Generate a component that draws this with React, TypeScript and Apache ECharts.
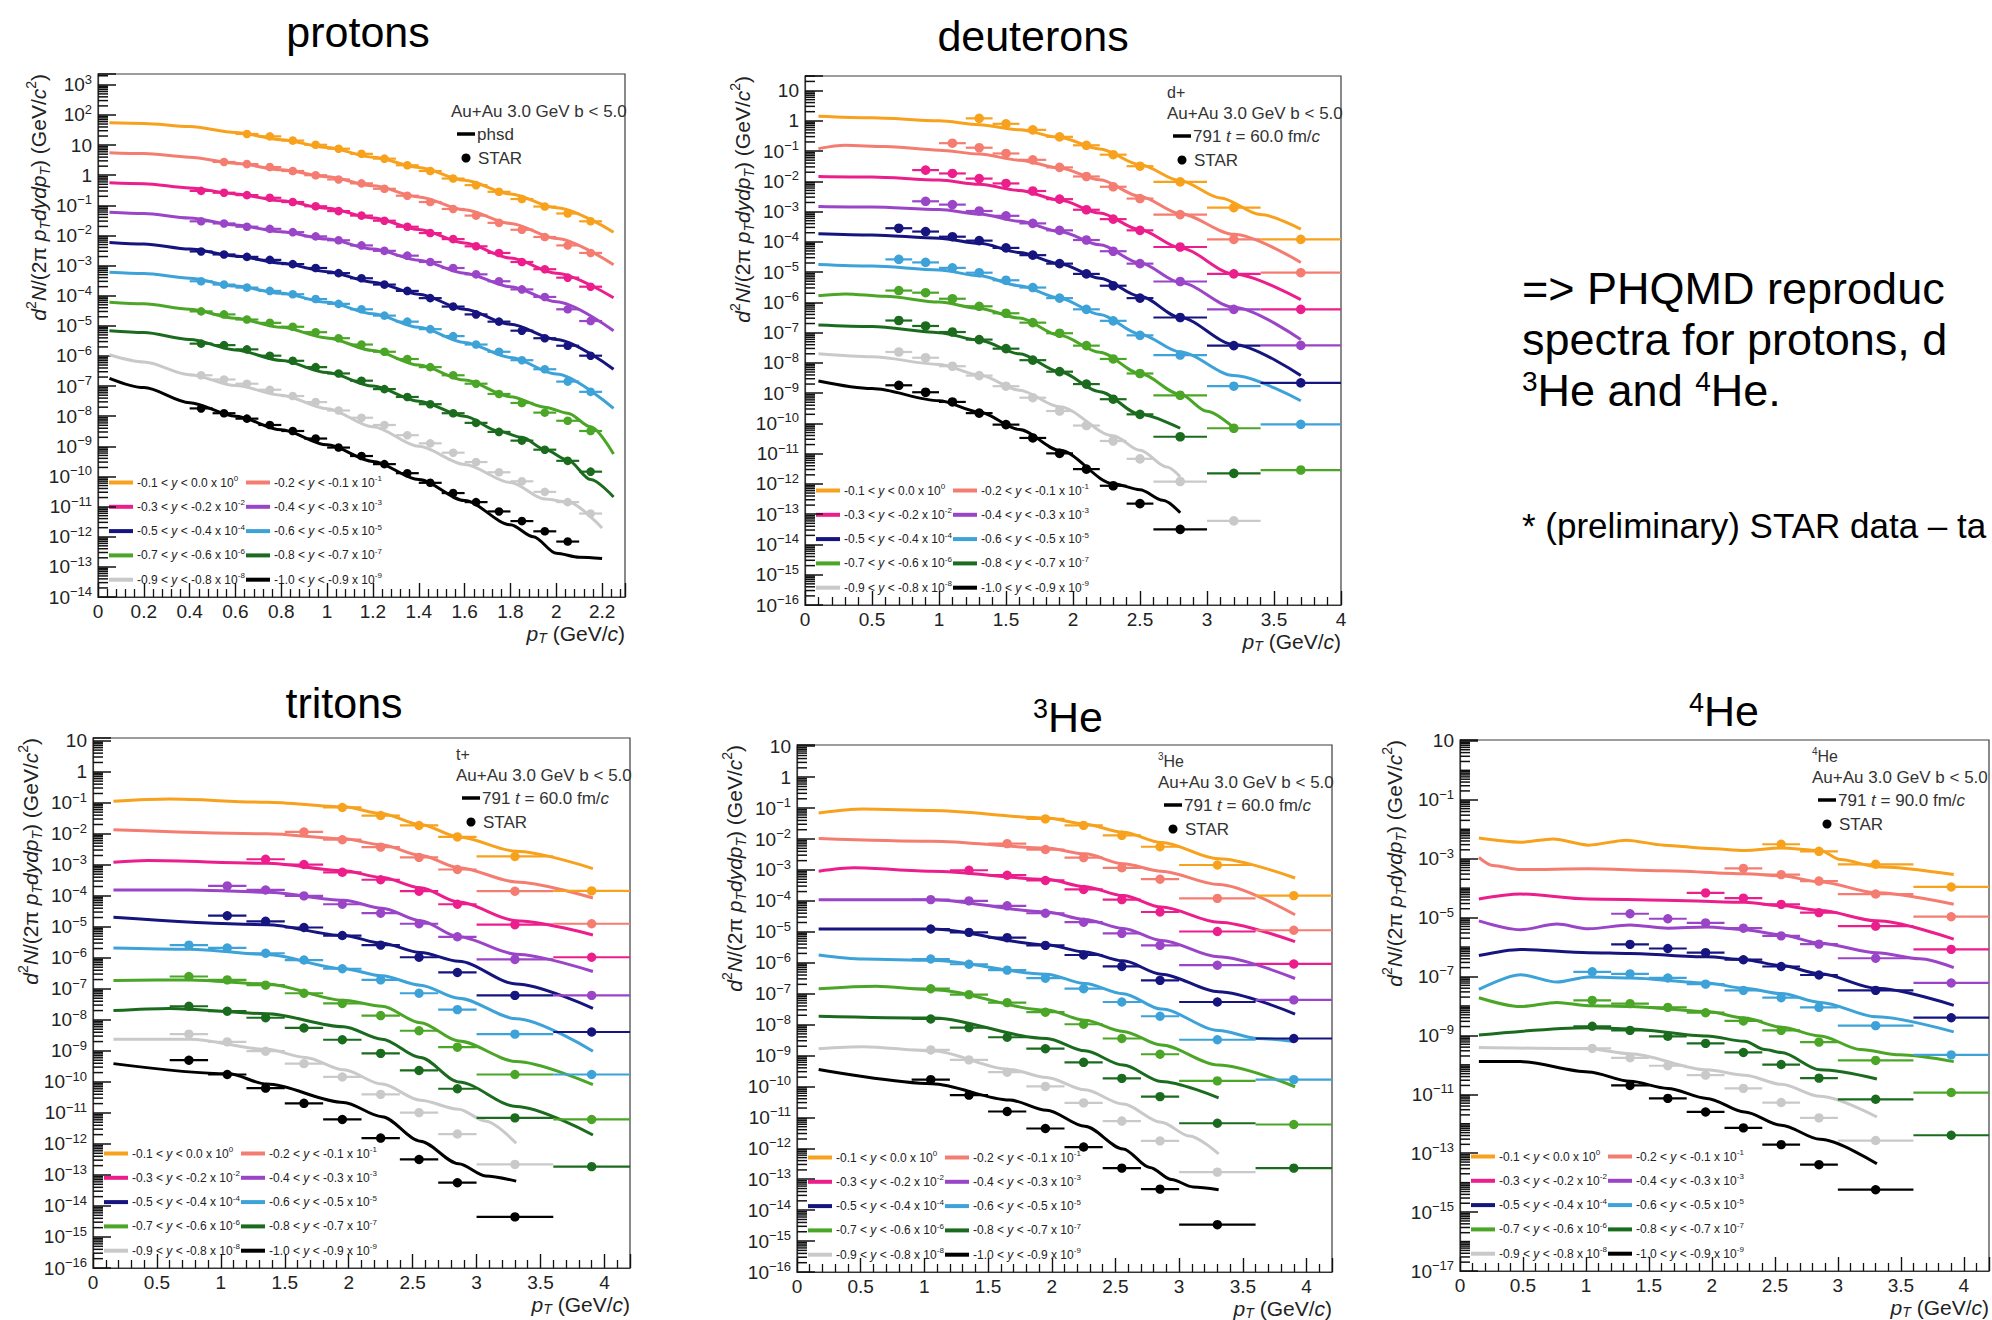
import React, { useEffect, useRef } from 'react';
import * as echarts from 'echarts';

const FONT = '"Liberation Sans", Arial, Helvetica, sans-serif';

const seriesColors = ['#F7A11D', '#F47C70', '#EB1E8C', '#9A45C8', '#16147E', '#3DA2D8', '#4BA526', '#1B6B1E', '#C9C9C9', '#000000'];

const rapidityLow = ['-0.1', '-0.2', '-0.3', '-0.4', '-0.5', '-0.6', '-0.7', '-0.8', '-0.9', '-1.0'];
const rapidityHigh = ['0.0', '-0.1', '-0.2', '-0.3', '-0.4', '-0.5', '-0.6', '-0.7', '-0.8', '-0.9'];
const scaleExponent = ['0', '-1', '-2', '-3', '-4', '-5', '-6', '-7', '-8', '-9'];

// All y values are log10 of d2N/(2 pi pT dy dpT) (already multiplied by the 10^-k offsets)

// ---------------- protons ----------------
const protonStarPt = [0.45, 0.55, 0.65, 0.75, 0.85, 0.95, 1.05, 1.15, 1.25, 1.35, 1.45, 1.55, 1.65, 1.75, 1.85, 1.95, 2.05, 2.15];
const protonStarHalfWidth = [0.05, 0.05, 0.05, 0.05, 0.05, 0.05, 0.05, 0.05, 0.05, 0.05, 0.05, 0.05, 0.05, 0.05, 0.05, 0.05, 0.05, 0.05];
const protonStarLog = [
  [null, null, 1.37, 1.29, 1.15, 1.01, 0.88, 0.71, 0.55, 0.33, 0.14, -0.11, -0.33, -0.55, -0.79, -1.04, -1.27, -1.53],
  [null, 0.44, 0.37, 0.27, 0.14, 0.0, -0.14, -0.27, -0.45, -0.68, -0.89, -1.12, -1.34, -1.58, -1.81, -2.05, -2.33, -2.58],
  [-0.52, -0.58, -0.66, -0.75, -0.89, -1.03, -1.19, -1.34, -1.51, -1.71, -1.92, -2.12, -2.36, -2.58, -2.88, -3.12, -3.4, -3.7],
  [-1.53, -1.6, -1.71, -1.78, -1.89, -2.03, -2.16, -2.33, -2.51, -2.67, -2.88, -3.08, -3.29, -3.52, -3.79, -4.04, -4.45, -4.84],
  [-2.53, -2.63, -2.71, -2.81, -2.95, -3.08, -3.25, -3.42, -3.63, -3.84, -4.08, -4.36, -4.62, -4.86, -5.16, -5.41, -5.66, -5.99],
  [-3.52, -3.63, -3.73, -3.84, -3.95, -4.11, -4.27, -4.45, -4.66, -4.86, -5.11, -5.34, -5.62, -5.86, -6.14, -6.44, -6.85, -7.19],
  [-4.52, -4.62, -4.79, -4.9, -5.03, -5.21, -5.41, -5.62, -5.86, -6.1, -6.37, -6.64, -6.92, -7.26, -7.56, -7.88, -8.15, -8.49],
  [-5.59, -5.64, -5.78, -5.99, -6.16, -6.37, -6.58, -6.82, -7.1, -7.36, -7.6, -7.9, -8.22, -8.52, -8.81, -9.11, -9.48, -9.84],
  [-6.64, -6.78, -6.92, -7.12, -7.33, -7.53, -7.81, -8.05, -8.29, -8.63, -8.9, -9.21, -9.52, -9.86, -10.16, -10.51, -10.85, -11.23],
  [-7.74, -7.9, -8.08, -8.29, -8.49, -8.74, -9.04, -9.32, -9.59, -9.89, -10.21, -10.55, -10.85, -11.16, -11.48, -11.82, -12.16, null],
];
const protonModelLog = [
  [[0.05, 1.74], [0.2, 1.72], [0.4, 1.62], [0.6, 1.42], [0.8, 1.18], [1.0, 0.92], [1.2, 0.6], [1.4, 0.26], [1.6, -0.17], [1.8, -0.62], [2.0, -1.08], [2.25, -1.89]],
  [[0.05, 0.75], [0.2, 0.72], [0.4, 0.6], [0.6, 0.4], [0.8, 0.18], [1.0, -0.05], [1.2, -0.35], [1.4, -0.72], [1.6, -1.15], [1.8, -1.6], [2.0, -2.1], [2.25, -2.97]],
  [[0.05, -0.25], [0.2, -0.28], [0.4, -0.42], [0.6, -0.62], [0.8, -0.85], [1.0, -1.1], [1.2, -1.42], [1.4, -1.8], [1.6, -2.25], [1.8, -2.75], [2.0, -3.25], [2.25, -4.07]],
  [[0.05, -1.23], [0.2, -1.27], [0.4, -1.42], [0.6, -1.65], [0.8, -1.88], [1.0, -2.12], [1.2, -2.45], [1.4, -2.82], [1.6, -3.25], [1.8, -3.7], [2.0, -4.2], [2.25, -5.16]],
  [[0.05, -2.23], [0.2, -2.28], [0.4, -2.45], [0.6, -2.68], [0.8, -2.92], [1.0, -3.2], [1.2, -3.55], [1.4, -3.95], [1.6, -4.45], [1.8, -4.95], [2.0, -5.45], [2.25, -6.44]],
  [[0.05, -3.22], [0.2, -3.26], [0.4, -3.42], [0.6, -3.68], [0.8, -3.92], [1.0, -4.22], [1.2, -4.6], [1.4, -5.05], [1.6, -5.55], [1.8, -6.05], [2.0, -6.6], [2.25, -7.74]],
  [[0.05, -4.22], [0.2, -4.27], [0.4, -4.45], [0.6, -4.75], [0.8, -5.05], [1.0, -5.4], [1.2, -5.82], [1.4, -6.3], [1.6, -6.8], [1.8, -7.35], [1.95, -7.7], [2.05, -7.9], [2.15, -8.35], [2.25, -9.25]],
  [[0.05, -5.16], [0.2, -5.22], [0.4, -5.45], [0.6, -5.8], [0.8, -6.15], [1.0, -6.55], [1.2, -7.0], [1.4, -7.5], [1.6, -8.0], [1.75, -8.5], [1.85, -8.7], [1.95, -9.1], [2.05, -9.45], [2.15, -10.1], [2.25, -10.68]],
  [[0.05, -5.96], [0.2, -6.2], [0.4, -6.62], [0.6, -6.98], [0.8, -7.3], [1.0, -7.75], [1.2, -8.35], [1.4, -9.0], [1.6, -9.6], [1.8, -10.2], [1.95, -10.75], [2.05, -10.85], [2.2, -11.71]],
  [[0.05, -6.74], [0.2, -7.05], [0.4, -7.55], [0.6, -8.0], [0.8, -8.45], [1.0, -8.95], [1.2, -9.5], [1.4, -10.1], [1.6, -10.8], [1.8, -11.6], [1.9, -12.0], [2.0, -12.55], [2.1, -12.68], [2.2, -12.72]],
];

// ---------------- deuterons ----------------
const deuteronStarPt = [0.7, 0.9, 1.1, 1.3, 1.5, 1.7, 1.9, 2.1, 2.3, 2.5, 2.8, 3.2, 3.7];
const deuteronStarHalfWidth = [0.1, 0.1, 0.1, 0.1, 0.1, 0.1, 0.1, 0.1, 0.1, 0.1, 0.2, 0.2, 0.3];
const deuteronStarLog = [
  [null, null, null, 0.08, -0.1, -0.3, -0.53, -0.81, -1.12, -1.5, -2.02, -2.87, -3.92],
  [null, null, -0.74, -0.89, -1.08, -1.29, -1.54, -1.84, -2.18, -2.57, -3.1, -3.92, -5.02],
  [null, -1.63, -1.74, -1.91, -2.07, -2.32, -2.59, -2.94, -3.25, -3.62, -4.17, -5.06, -6.23],
  [null, -2.66, -2.77, -2.98, -3.14, -3.39, -3.62, -3.94, -4.31, -4.72, -5.31, -6.23, -7.42],
  [-3.55, -3.66, -3.83, -3.96, -4.2, -4.44, -4.72, -5.06, -5.45, -5.86, -6.5, -7.43, -8.66],
  [-4.58, -4.68, -4.86, -5.02, -5.27, -5.51, -5.86, -6.23, -6.61, -7.09, -7.74, -8.77, -10.03],
  [-5.61, -5.68, -5.88, -6.13, -6.36, -6.67, -7.02, -7.43, -7.87, -8.35, -9.07, -10.16, -11.54],
  [-6.6, -6.78, -6.98, -7.23, -7.53, -7.91, -8.29, -8.7, -9.2, -9.7, -10.44, -11.65, null],
  [-7.64, -7.83, -8.11, -8.42, -8.77, -9.15, -9.59, -10.07, -10.58, -11.17, -11.92, -13.22, null],
  [-8.74, -8.97, -9.29, -9.66, -10.04, -10.48, -10.99, -11.51, -12.06, -12.65, -13.5, null, null],
];
const deuteronModelLog = [
  [[0.1, 0.15], [0.5, 0.1], [1.0, 0.0], [1.3, -0.13], [1.6, -0.3], [1.9, -0.55], [2.2, -0.93], [2.5, -1.45], [2.8, -1.98], [3.1, -2.55], [3.4, -3.1], [3.7, -3.58]],
  [[0.1, -0.92], [0.3, -0.81], [0.6, -0.85], [1.0, -0.97], [1.3, -1.1], [1.6, -1.3], [1.9, -1.56], [2.2, -1.95], [2.5, -2.5], [2.8, -3.07], [3.2, -3.75], [3.7, -4.68]],
  [[0.1, -1.84], [0.5, -1.86], [1.0, -1.96], [1.3, -2.1], [1.6, -2.3], [1.9, -2.62], [2.2, -3.05], [2.5, -3.6], [2.8, -4.2], [3.2, -5.06], [3.7, -5.91]],
  [[0.1, -2.83], [0.5, -2.85], [1.0, -2.93], [1.3, -3.08], [1.6, -3.32], [1.9, -3.66], [2.2, -4.1], [2.5, -4.7], [2.8, -5.34], [3.2, -6.16], [3.7, -7.23]],
  [[0.1, -3.73], [0.5, -3.77], [1.0, -3.88], [1.3, -4.05], [1.6, -4.35], [1.9, -4.72], [2.2, -5.2], [2.5, -5.8], [2.8, -6.5], [3.2, -7.39], [3.7, -8.42]],
  [[0.1, -4.75], [0.5, -4.8], [1.0, -4.93], [1.3, -5.12], [1.6, -5.45], [1.9, -5.86], [2.2, -6.4], [2.5, -7.05], [2.8, -7.64], [3.2, -8.42], [3.7, -9.25]],
  [[0.1, -5.78], [0.3, -5.72], [0.6, -5.8], [1.0, -5.99], [1.3, -6.2], [1.6, -6.52], [1.9, -7.09], [2.2, -7.65], [2.5, -8.35], [2.8, -9.04], [3.0, -9.6], [3.2, -10.14]],
  [[0.1, -6.75], [0.5, -6.8], [1.0, -7.0], [1.3, -7.25], [1.6, -7.7], [1.9, -8.29], [2.2, -8.95], [2.5, -9.7], [2.8, -10.16]],
  [[0.1, -7.7], [0.5, -7.8], [1.0, -8.05], [1.3, -8.4], [1.6, -8.9], [1.9, -9.45], [2.3, -10.41], [2.5, -10.89], [2.7, -11.44], [2.8, -11.76]],
  [[0.1, -8.6], [0.5, -8.85], [1.0, -9.25], [1.3, -9.62], [1.6, -10.2], [1.9, -10.89], [2.3, -11.99], [2.5, -12.19], [2.67, -12.54], [2.8, -12.95]],
];

// ---------------- tritons ----------------
const tritonStarPt = [0.75, 1.05, 1.35, 1.65, 1.95, 2.25, 2.55, 2.85, 3.3, 3.9];
const tritonStarHalfWidth = [0.15, 0.15, 0.15, 0.15, 0.15, 0.15, 0.15, 0.15, 0.3, 0.3];
const tritonStarLog = [
  [null, null, null, null, -1.15, -1.41, -1.73, -2.1, -2.73, -3.84],
  [null, null, null, -1.94, -2.19, -2.43, -2.76, -3.15, -3.85, -4.9],
  [null, null, -2.82, -2.99, -3.24, -3.48, -3.85, -4.27, -4.93, -5.98],
  [null, -3.68, -3.81, -4.0, -4.27, -4.56, -4.9, -5.32, -6.05, -7.21],
  [null, -4.64, -4.82, -5.02, -5.28, -5.59, -5.98, -6.47, -7.21, -8.39],
  [-5.59, -5.68, -5.85, -6.07, -6.35, -6.71, -7.14, -7.67, -8.46, -9.76],
  [-6.6, -6.71, -6.88, -7.14, -7.47, -7.86, -8.35, -8.88, -9.76, -11.21],
  [-7.56, -7.72, -7.93, -8.26, -8.64, -9.08, -9.63, -10.22, -11.16, -12.73],
  [-8.46, -8.71, -9.01, -9.41, -9.84, -10.4, -10.99, -11.68, -12.66, null],
  [-9.3, -9.76, -10.2, -10.69, -11.21, -11.81, -12.5, -13.25, -14.35, null],
];
const tritonModelLog = [
  [[0.16, -0.95], [0.6, -0.88], [1.36, -0.98], [1.96, -1.13], [2.26, -1.35], [2.56, -1.7], [2.86, -2.1], [3.31, -2.56], [3.91, -3.12]],
  [[0.16, -1.87], [1.36, -2.0], [1.96, -2.16], [2.26, -2.36], [2.56, -2.69], [2.86, -3.09], [3.31, -3.55], [3.91, -4.07]],
  [[0.16, -2.92], [0.43, -2.86], [1.36, -2.95], [1.96, -3.19], [2.26, -3.41], [2.56, -3.74], [2.86, -4.2], [3.31, -4.8], [3.91, -5.26]],
  [[0.16, -3.81], [0.76, -3.81], [1.36, -3.88], [1.96, -4.14], [2.26, -4.4], [2.56, -4.8], [2.86, -5.32], [3.31, -5.88], [3.91, -6.44]],
  [[0.16, -4.69], [1.36, -4.93], [1.96, -5.28], [2.26, -5.53], [2.56, -5.83], [2.86, -6.11], [3.31, -6.84], [3.91, -7.63]],
  [[0.16, -5.68], [0.76, -5.72], [1.36, -5.89], [1.96, -6.35], [2.26, -6.58], [2.56, -6.88], [2.86, -7.3], [3.31, -7.96], [3.91, -9.01]],
  [[0.16, -6.73], [0.76, -6.71], [1.36, -6.84], [1.96, -7.37], [2.26, -7.56], [2.56, -8.09], [2.86, -8.68], [3.31, -9.34], [3.91, -10.09]],
  [[0.16, -7.7], [0.6, -7.63], [1.36, -7.8], [1.96, -8.22], [2.26, -8.62], [2.56, -9.21], [2.86, -10.0], [3.31, -10.79], [3.91, -11.71]],
  [[0.16, -8.62], [0.76, -8.62], [1.36, -8.95], [1.66, -9.21], [1.96, -9.61], [2.26, -10.07], [2.56, -10.59], [2.86, -10.88], [3.07, -11.26], [3.31, -11.98]],
  [[0.16, -9.41], [1.06, -9.74], [1.36, -10.07], [1.96, -10.66], [2.26, -11.12], [2.56, -11.91], [2.86, -12.64], [3.07, -13.03], [3.31, -13.2]],
];

// ---------------- 3He ----------------
const he3StarPt = [1.05, 1.35, 1.65, 1.95, 2.25, 2.55, 2.85, 3.3, 3.9];
const he3StarHalfWidth = [0.15, 0.15, 0.15, 0.15, 0.15, 0.15, 0.15, 0.3, 0.3];
const he3StarLog = [
  [null, null, null, -1.35, -1.56, -1.88, -2.25, -2.84, -3.83],
  [null, null, -2.15, -2.34, -2.6, -2.93, -3.3, -3.92, -4.95],
  [null, -3.01, -3.17, -3.34, -3.63, -3.96, -4.36, -4.99, -6.04],
  [-3.96, -4.0, -4.16, -4.4, -4.69, -5.05, -5.44, -6.08, -7.2],
  [-4.91, -5.02, -5.19, -5.44, -5.75, -6.12, -6.57, -7.27, -8.45],
  [-5.88, -6.05, -6.24, -6.5, -6.84, -7.27, -7.73, -8.49, -9.78],
  [-6.84, -7.03, -7.29, -7.6, -7.99, -8.45, -8.96, -9.82, -11.23],
  [-7.82, -8.1, -8.41, -8.78, -9.22, -9.74, -10.33, -11.19, -12.64],
  [-8.82, -9.14, -9.54, -10.0, -10.53, -11.12, -11.76, -12.77, null],
  [-9.78, -10.28, -10.81, -11.36, -11.96, -12.64, -13.32, -14.47, null],
];
const he3ModelLog = [
  [[0.17, -1.16], [0.52, -1.03], [1.06, -1.08], [1.96, -1.32], [2.26, -1.52], [2.56, -1.78], [2.86, -2.11], [3.31, -2.64], [3.91, -3.26]],
  [[0.17, -1.98], [1.06, -2.07], [1.96, -2.29], [2.26, -2.48], [2.56, -2.8], [2.86, -3.04], [3.31, -3.47], [3.91, -4.45]],
  [[0.17, -3.04], [0.45, -2.93], [1.06, -3.04], [1.96, -3.3], [2.26, -3.54], [2.56, -3.83], [2.86, -4.2], [3.31, -4.69], [3.91, -5.32]],
  [[0.17, -3.96], [1.06, -3.96], [1.96, -4.36], [2.26, -4.6], [2.56, -4.89], [2.86, -5.28], [3.31, -5.81], [3.91, -6.51]],
  [[0.17, -4.91], [1.06, -4.91], [1.96, -5.42], [2.26, -5.65], [2.56, -5.94], [2.86, -6.37], [3.31, -6.94], [3.91, -7.66]],
  [[0.17, -5.75], [0.52, -5.88], [1.06, -5.92], [1.96, -6.37], [2.26, -6.67], [2.56, -7.0], [2.86, -7.5], [3.31, -8.19], [3.62, -8.45], [3.91, -8.55]],
  [[0.17, -6.84], [0.62, -6.76], [1.06, -6.87], [1.96, -7.53], [2.26, -7.86], [2.56, -8.22], [2.86, -8.66], [3.31, -9.31], [3.91, -10.01]],
  [[0.17, -7.73], [1.06, -7.79], [1.96, -8.45], [2.26, -8.85], [2.56, -9.31], [2.86, -9.84], [3.31, -10.37]],
  [[0.17, -8.78], [0.52, -8.72], [1.06, -8.85], [1.67, -9.45], [1.96, -9.71], [2.26, -10.11], [2.56, -10.57], [2.86, -11.16], [3.08, -11.6], [3.31, -12.18]],
  [[0.17, -9.45], [1.06, -9.91], [1.67, -10.44], [1.96, -10.77], [2.26, -11.29], [2.56, -12.02], [2.77, -12.62], [2.94, -13.01], [3.11, -13.25], [3.31, -13.34]],
];

// ---------------- 4He ----------------
const he4StarPt = [1.05, 1.35, 1.65, 1.95, 2.25, 2.55, 2.85, 3.3, 3.9];
const he4StarHalfWidth = [0.15, 0.15, 0.15, 0.15, 0.15, 0.15, 0.15, 0.3, 0.3];
const he4StarLog = [
  [null, null, null, null, null, -2.51, -2.75, -3.19, -3.96],
  [null, null, null, null, -3.33, -3.54, -3.76, -4.2, -4.97],
  [null, null, null, -4.16, -4.34, -4.55, -4.83, -5.29, -6.08],
  [null, -4.87, -5.04, -5.18, -5.36, -5.62, -5.9, -6.38, -7.22],
  [null, -5.91, -6.05, -6.19, -6.43, -6.66, -6.95, -7.47, -8.4],
  [-6.84, -6.91, -7.05, -7.26, -7.47, -7.72, -8.05, -8.67, -9.66],
  [-7.81, -7.92, -8.05, -8.23, -8.51, -8.83, -9.23, -9.85, -10.94],
  [-8.69, -8.83, -9.03, -9.27, -9.58, -9.99, -10.45, -11.17, -12.39],
  [-9.44, -9.76, -10.03, -10.35, -10.8, -11.28, -11.8, -12.57, null],
  [null, -10.7, -11.14, -11.6, -12.14, -12.71, -13.39, -14.24, null],
];
const he4ModelLog = [
  [[0.15, -2.3], [0.48, -2.44], [0.74, -2.33], [1.02, -2.54], [1.32, -2.37], [1.62, -2.54], [1.97, -2.65], [2.26, -2.72], [2.55, -2.64], [2.86, -2.72], [3.02, -3.03], [3.31, -3.27], [3.92, -3.54]],
  [[0.15, -2.96], [0.26, -3.23], [0.48, -3.37], [1.02, -3.34], [1.62, -3.41], [2.26, -3.51], [2.55, -3.58], [2.86, -3.79], [3.31, -4.16], [3.92, -4.55]],
  [[0.15, -4.37], [0.48, -4.2], [1.02, -4.37], [1.62, -4.41], [2.26, -4.48], [2.55, -4.59], [2.86, -4.76], [3.31, -5.11], [3.92, -5.73]],
  [[0.15, -5.11], [0.48, -5.41], [0.77, -5.22], [1.02, -5.38], [1.35, -5.25], [1.65, -5.36], [1.96, -5.32], [2.26, -5.41], [2.55, -5.59], [2.86, -5.87], [3.31, -6.19], [3.65, -6.4], [3.92, -6.7]],
  [[0.15, -6.29], [0.48, -6.08], [1.02, -6.19], [1.35, -6.22], [1.96, -6.33], [2.26, -6.43], [2.55, -6.63], [2.86, -6.91], [3.31, -7.4], [3.92, -7.98]],
  [[0.15, -7.44], [0.48, -6.94], [0.77, -7.19], [1.02, -7.02], [1.35, -7.05], [1.96, -7.22], [2.26, -7.4], [2.55, -7.58], [2.86, -7.88], [3.31, -8.37], [3.92, -8.88]],
  [[0.15, -7.72], [0.48, -8.02], [0.77, -7.88], [1.02, -7.99], [1.35, -8.02], [1.96, -8.19], [2.26, -8.41], [2.55, -8.72], [2.86, -9.02], [3.18, -9.48], [3.49, -9.66], [3.92, -9.89]],
  [[0.15, -8.99], [1.02, -8.74], [1.35, -8.78], [1.96, -9.02], [2.26, -9.2], [2.42, -9.48], [2.55, -9.58], [2.86, -10.17], [3.31, -10.48]],
  [[0.15, -9.41], [1.02, -9.45], [1.35, -9.62], [1.96, -10.17], [2.26, -10.35], [2.55, -10.66], [2.86, -11.07], [3.31, -11.77]],
  [[0.15, -9.89], [0.48, -9.89], [1.02, -10.24], [1.35, -10.56], [1.65, -10.8], [1.96, -11.14], [2.26, -11.6], [2.55, -12.05], [2.86, -12.53], [3.31, -13.36]],
];

const panels = [
  { title: 'protons', titleX: 358, titleY: 32, left: 98, top: 74, width: 527, height: 523, xMax: 2.3, xInterval: 0.2, yMin: -14, yMax: 3.36, yInterval: 1, tag: '', modelLabel: 'phsd', starPt: protonStarPt, starHalf: protonStarHalfWidth, star: protonStarLog, model: protonModelLog, dotR: 4.3, yTitleX: 38 },
  { title: 'deuterons', titleX: 1033, titleY: 36, left: 805, top: 76, width: 536, height: 529, xMax: 4, xInterval: 0.5, yMin: -16, yMax: 1.48, yInterval: 1, tag: 'd+', modelLabel: '791 {i|t} = 60.0 fm/{i|c}', starPt: deuteronStarPt, starHalf: deuteronStarHalfWidth, star: deuteronStarLog, model: deuteronModelLog, dotR: 4.8, yTitleX: 742 },
  { title: 'tritons', titleX: 344, titleY: 703, left: 93, top: 738, width: 537, height: 530, xMax: 4.2, xInterval: 0.5, yMin: -16, yMax: 1.09, yInterval: 1, tag: 't+', modelLabel: '791 {i|t} = 60.0 fm/{i|c}', starPt: tritonStarPt, starHalf: tritonStarHalfWidth, star: tritonStarLog, model: tritonModelLog, dotR: 4.7, yTitleX: 30 },
  { title: '{s|3}He', titleX: 1068, titleY: 717, left: 797, top: 745, width: 535, height: 527, xMax: 4.2, xInterval: 0.5, yMin: -16, yMax: 1.04, yInterval: 1, tag: '{t|3}He', modelLabel: '791 {i|t} = 60.0 fm/{i|c}', starPt: he3StarPt, starHalf: he3StarHalfWidth, star: he3StarLog, model: he3ModelLog, dotR: 4.7, yTitleX: 734 },
  { title: '{s|4}He', titleX: 1724, titleY: 711, left: 1460, top: 740, width: 534, height: 531, xMax: 4.2, xInterval: 0.5, yMin: -17, yMax: 1.03, yInterval: 2, tag: '{t|4}He', modelLabel: '791 {i|t} = 90.0 fm/{i|c}', starPt: he4StarPt, starHalf: he4StarHalfWidth, star: he4StarLog, model: he4ModelLog, dotR: 4.7, yTitleX: 1394 },
];

// positions (in log10 units) of the minor ticks of a log axis: 2..9 x 10^n (plus unlabeled decades)
function minorLogTicks(min: number, max: number, labelInterval: number) {
  const out: number[] = [];
  for (let n = Math.floor(min) - 1; n <= Math.ceil(max); n++) {
    for (let k = 1; k <= 9; k++) {
      if (k === 1 && labelInterval === 1) continue;
      if (k === 1 && ((n - min) % labelInterval + labelInterval) % labelInterval === 0) continue;
      const v = n + Math.log10(k);
      if (v > min + 1e-6 && v < max - 1e-6) out.push(v);
    }
  }
  return out;
}

function powerLabel(v: number) {
  const n = Math.round(v);
  if (Math.abs(v - n) > 1e-6) return '';
  if (n === 0) return '1';
  if (n === 1) return '10';
  return '10{s|' + (n < 0 ? '\u2212' + -n : String(n)) + '}';
}

const PAGE_W = 1992;

function buildOption() {
  const grid: any[] = [];
  const xAxis: any[] = [];
  const yAxis: any[] = [];
  const series: any[] = [];
  const graphic: any[] = [];
  const tickColor = '#111';

  panels.forEach((p, g) => {
    const L = p.left, T = p.top, R = p.left + p.width, B = p.top + p.height;
    grid.push({ left: L, top: T, width: p.width, height: p.height, show: true, borderColor: '#3c3c3c', borderWidth: 1.2, backgroundColor: 'rgba(0,0,0,0)' });
    xAxis.push({
      gridIndex: g, type: 'value', position: 'bottom', min: 0, max: p.xMax, interval: p.xInterval,
      axisLine: { show: true, onZero: false, lineStyle: { color: '#333', width: 1.2 } },
      axisTick: { show: true, inside: true, length: 14, lineStyle: { color: tickColor, width: 1.4 } },
      minorTick: { show: true, splitNumber: 5, length: 8, lineStyle: { color: tickColor, width: 1.3 } },
      splitLine: { show: false },
      axisLabel: {
        fontSize: 19, fontFamily: FONT, color: '#222', margin: 5,
        formatter: (v: number) => {
          const k = v / p.xInterval;
          if (Math.abs(k - Math.round(k)) > 1e-6) return '';
          return String(Math.round(v * 100) / 100);
        },
      },
    });
    yAxis.push({
      gridIndex: g, type: 'value', position: 'left', min: p.yMin, max: p.yMax, interval: p.yInterval,
      axisLine: { show: true, onZero: false, lineStyle: { color: '#333', width: 1.2 } },
      axisTick: { show: true, inside: true, length: 18, lineStyle: { color: tickColor, width: 1.5 } },
      splitLine: { show: false },
      axisLabel: {
        fontSize: 19, fontFamily: FONT, color: '#222', margin: 6, lineHeight: 24,
        formatter: powerLabel,
        rich: { s: { fontSize: 13, lineHeight: 13, verticalAlign: 'top', fontFamily: FONT, color: '#222' } },
      },
    });

    // logarithmic minor ticks of the y axis, placed through the axis scale
    series.push({
      type: 'custom', name: 'minor ticks ' + g, xAxisIndex: g, yAxisIndex: g, silent: true, z: 6,
      data: minorLogTicks(p.yMin, p.yMax, p.yInterval).map((v) => [0, v]),
      renderItem: (params: any, api: any) => {
        const c = api.coord([0, api.value(1)]);
        return { type: 'line', shape: { x1: c[0], y1: c[1], x2: c[0] + 10, y2: c[1] }, style: { stroke: tickColor, lineWidth: 1.5 } };
      },
    });

    for (let i = 0; i < 10; i++) {
      const color = seriesColors[i];
      series.push({
        type: 'line', name: 'model ' + i, xAxisIndex: g, yAxisIndex: g,
        data: p.model[i], showSymbol: false, symbol: 'none', smooth: 0.3, smoothMonotone: 'x',
        lineStyle: { color, width: 3 }, itemStyle: { color }, silent: true, z: 2,
      });
      const pts: number[][] = [];
      p.star[i].forEach((v: number | null, j: number) => {
        if (v !== null) pts.push([p.starPt[j], v, p.starHalf[j]]);
      });
      const r = p.dotR;
      series.push({
        type: 'custom', name: 'STAR ' + i, xAxisIndex: g, yAxisIndex: g, data: pts, z: 3, silent: true,
        renderItem: (params: any, api: any) => {
          const x = api.value(0), y = api.value(1), hw = api.value(2);
          const c = api.coord([x, y]);
          const a = api.coord([x - hw, y]);
          const b = api.coord([Math.min(x + hw, p.xMax), y]);
          return {
            type: 'group',
            children: [
              { type: 'line', shape: { x1: a[0], y1: a[1], x2: b[0], y2: b[1] }, style: { stroke: color, lineWidth: 2.2 } },
              { type: 'circle', shape: { cx: c[0], cy: c[1], r }, style: { fill: color } },
            ],
          };
        },
      });
    }

    // panel title
    graphic.push({
      type: 'text', x: p.titleX, y: p.titleY,
      style: {
        text: p.title, fontSize: 43, fontFamily: FONT, fill: '#000', align: 'center', verticalAlign: 'middle', lineHeight: 43,
        rich: { s: { fontSize: 27, lineHeight: 31, verticalAlign: 'top', fontFamily: FONT, fill: '#000' } },
      },
    });
    // y axis title
    graphic.push({
      type: 'text', x: p.yTitleX, y: T, rotation: Math.PI / 2,
      style: {
        text: '{i|d}{s|2}{i|N}/(2\u03c0 {i|p}{u|T}{i|dydp}{u|T}) (GeV/{i|c}{s|2})',
        fontSize: 21, fontFamily: FONT, fill: '#222', align: 'right', verticalAlign: 'middle', lineHeight: 28,
        rich: {
          i: { fontStyle: 'italic', fontSize: 21, lineHeight: 28, fontFamily: FONT, fill: '#222' },
          s: { fontSize: 14, lineHeight: 14, verticalAlign: 'top', fontFamily: FONT, fill: '#222' },
          u: { fontSize: 14, lineHeight: 14, verticalAlign: 'bottom', fontStyle: 'italic', fontFamily: FONT, fill: '#222' },
        },
      },
    });
    // x axis title
    graphic.push({
      type: 'text', x: Math.min(R, PAGE_W - 3), y: B + 36,
      style: {
        text: '{i|p}{u|T} (GeV/{i|c})', fontSize: 21, fontFamily: FONT, fill: '#222', align: 'right', verticalAlign: 'middle', lineHeight: 24,
        rich: {
          i: { fontStyle: 'italic', fontSize: 21, lineHeight: 24, fontFamily: FONT, fill: '#222' },
          u: { fontSize: 14, lineHeight: 14, verticalAlign: 'bottom', fontStyle: 'italic', fontFamily: FONT, fill: '#222' },
        },
      },
    });

    // header block
    const hx = Math.min(R - 174, PAGE_W - 180);
    const shift = hx - (R - 174);
    if (p.tag) {
      graphic.push({
        type: 'text', x: hx, y: T + 16,
        style: { text: p.tag, fontSize: 16, fontFamily: FONT, fill: '#333', verticalAlign: 'middle', lineHeight: 20, rich: { t: { fontSize: 10, lineHeight: 10, verticalAlign: 'top', fontFamily: FONT, fill: '#333' } } },
      });
    }
    graphic.push({ type: 'text', x: hx, y: T + 37, style: { text: 'Au+Au 3.0 GeV b < 5.0', fontSize: 17, fontFamily: FONT, fill: '#333', verticalAlign: 'middle' } });
    graphic.push({ type: 'line', shape: { x1: R - 168 + shift, y1: T + 60, x2: R - 150 + shift, y2: T + 60 }, style: { stroke: '#000', lineWidth: 3.5 } });
    graphic.push({
      type: 'text', x: R - 148 + shift, y: T + 60,
      style: { text: p.modelLabel, fontSize: 17, fontFamily: FONT, fill: '#333', verticalAlign: 'middle', rich: { i: { fontStyle: 'italic', fontSize: 17, fontFamily: FONT, fill: '#333' } } },
    });
    graphic.push({ type: 'circle', shape: { cx: R - 159 + shift, cy: T + 84, r: 4.5 }, style: { fill: '#000' } });
    graphic.push({ type: 'text', x: R - 147 + shift, y: T + 84, style: { text: 'STAR', fontSize: 17, fontFamily: FONT, fill: '#333', verticalAlign: 'middle' } });

    // rapidity legend
    for (let i = 0; i < 10; i++) {
      const row = Math.floor(i / 2), col = i % 2;
      const yy = B - 114.5 + row * 24.3;
      const lx = L + (col === 0 ? 11 : 148);
      graphic.push({ type: 'line', shape: { x1: lx, y1: yy, x2: lx + 24, y2: yy }, style: { stroke: seriesColors[i], lineWidth: 4 } });
      graphic.push({
        type: 'text', x: lx + 28, y: yy,
        style: {
          text: rapidityLow[i] + ' < {i|y} < ' + rapidityHigh[i] + ' x 10{s|' + scaleExponent[i] + '}',
          fontSize: 12, fontFamily: FONT, fill: '#222', verticalAlign: 'middle', lineHeight: 16,
          rich: {
            i: { fontStyle: 'italic', fontSize: 12, lineHeight: 16, fontFamily: FONT, fill: '#222' },
            s: { fontSize: 8, lineHeight: 8, verticalAlign: 'top', fontFamily: FONT, fill: '#222' },
          },
        },
      });
    }
  });

  // side text
  graphic.push({ type: 'text', x: 1522, y: 288, style: { text: '=> PHQMD reproduc', fontSize: 45, lineHeight: 46, fontFamily: FONT, fill: '#000', verticalAlign: 'middle' } });
  graphic.push({ type: 'text', x: 1522, y: 339, style: { text: 'spectra for protons, d', fontSize: 45, lineHeight: 46, fontFamily: FONT, fill: '#000', verticalAlign: 'middle' } });
  graphic.push({
    type: 'text', x: 1522, y: 390,
    style: { text: '{s|3}He and {s|4}He.', fontSize: 45, fontFamily: FONT, fill: '#000', verticalAlign: 'middle', lineHeight: 46, rich: { s: { fontSize: 28, lineHeight: 30, verticalAlign: 'top', fontFamily: FONT, fill: '#000' } } },
  });
  graphic.push({ type: 'text', x: 1522, y: 525, style: { text: '* (preliminary) STAR data \u2013 ta', fontSize: 35, fontFamily: FONT, fill: '#000', verticalAlign: 'middle' } });

  return { animation: false, backgroundColor: '#ffffff', grid, xAxis, yAxis, series, graphic };
}

export default function App() {
  const ref = useRef<HTMLDivElement>(null);
  useEffect(() => {
    if (!ref.current) return;
    const chart = echarts.init(ref.current, undefined, { renderer: 'svg' });
    chart.setOption(buildOption() as any);
    return () => chart.dispose();
  }, []);
  return <div ref={ref} style={{ position: 'absolute', left: 0, top: 0, width: PAGE_W, height: 1320, background: '#fff' }} />;
}
